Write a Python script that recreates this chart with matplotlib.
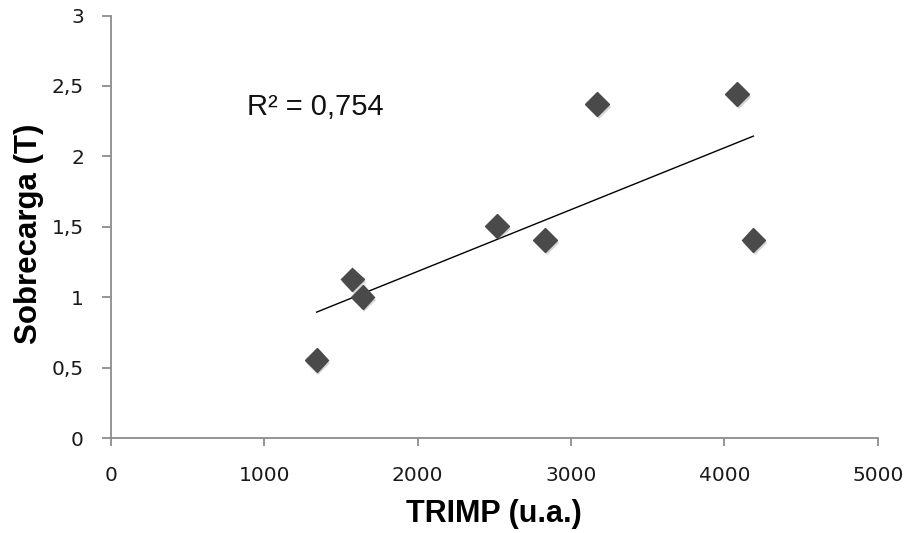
import numpy as np
import matplotlib
matplotlib.use("Agg")
import matplotlib.pyplot as plt
import matplotlib.patheffects as pe

# data
trimp = [1341, 1574, 1641, 2519, 2832, 3171, 4084, 4189]
sobrecarga = [0.554, 1.127, 1.0, 1.506, 1.406, 2.372, 2.441, 1.406]

xticks = [0, 1000, 2000, 3000, 4000, 5000]
yticks = [0, 0.5, 1, 1.5, 2, 2.5, 3]
ytick_labels = ['0', '0,5', '1', '1,5', '2', '2,5', '3']
r2_text = 'R² = 0,754'

fig = plt.figure(figsize=(9.11, 5.33), dpi=100)
ax = fig.add_axes([0.1218, 0.1782, 0.8417, 0.7927])

ax.plot(trimp, sobrecarga, linestyle='none', marker='D', markersize=12,
        color='#4a4a4a', markeredgecolor='#4a4a4a', zorder=3,
        path_effects=[pe.SimplePatchShadow(offset=(1.2, -2), shadow_rgbFace='#888888', alpha=0.35),
                      pe.Normal()])

# linear trendline over the data range
k, b = np.polyfit(trimp, sobrecarga, 1)
xl = np.array([min(trimp), max(trimp)])
ax.plot(xl, k * xl + b, color='black', linewidth=1.0, zorder=2)

ax.text(887, 2.35, r2_text, ha='left', va='center', fontsize=21,
        family='Liberation Sans', color='#111111')

ax.set_xlim(0, 5000)
ax.set_ylim(0, 3)
ax.set_xticks(xticks)
ax.set_xticklabels([str(t) for t in xticks])
ax.set_yticks(yticks)
ax.set_yticklabels(ytick_labels)

for s in ['top', 'right']:
    ax.spines[s].set_visible(False)
for s in ['left', 'bottom']:
    ax.spines[s].set_color('#8c8c8c')
    ax.spines[s].set_linewidth(1.3)

ax.tick_params(axis='x', direction='out', length=6, width=1.3, color='#8c8c8c',
               pad=14, labelsize=14.5, labelcolor='#1a1a1a')
ax.tick_params(axis='y', direction='out', length=6.5, width=1.3, color='#8c8c8c',
               pad=13, labelsize=14.5, labelcolor='#1a1a1a')
for lab in ax.get_xticklabels() + ax.get_yticklabels():
    lab.set_family('DejaVu Sans')

ax.set_xlabel('TRIMP (u.a.)', fontsize=22, fontweight='bold', family='Liberation Sans')
ax.set_ylabel('Sobrecarga (T)', fontsize=22.5, fontweight='bold', family='Liberation Sans')
ax.xaxis.label.set_va('center')
ax.yaxis.label.set_va('center')
ax.xaxis.set_label_coords(0.5, -0.18)
ax.yaxis.set_label_coords(-0.107, 0.483)

fig.savefig('out.png', dpi=100, facecolor='white')
